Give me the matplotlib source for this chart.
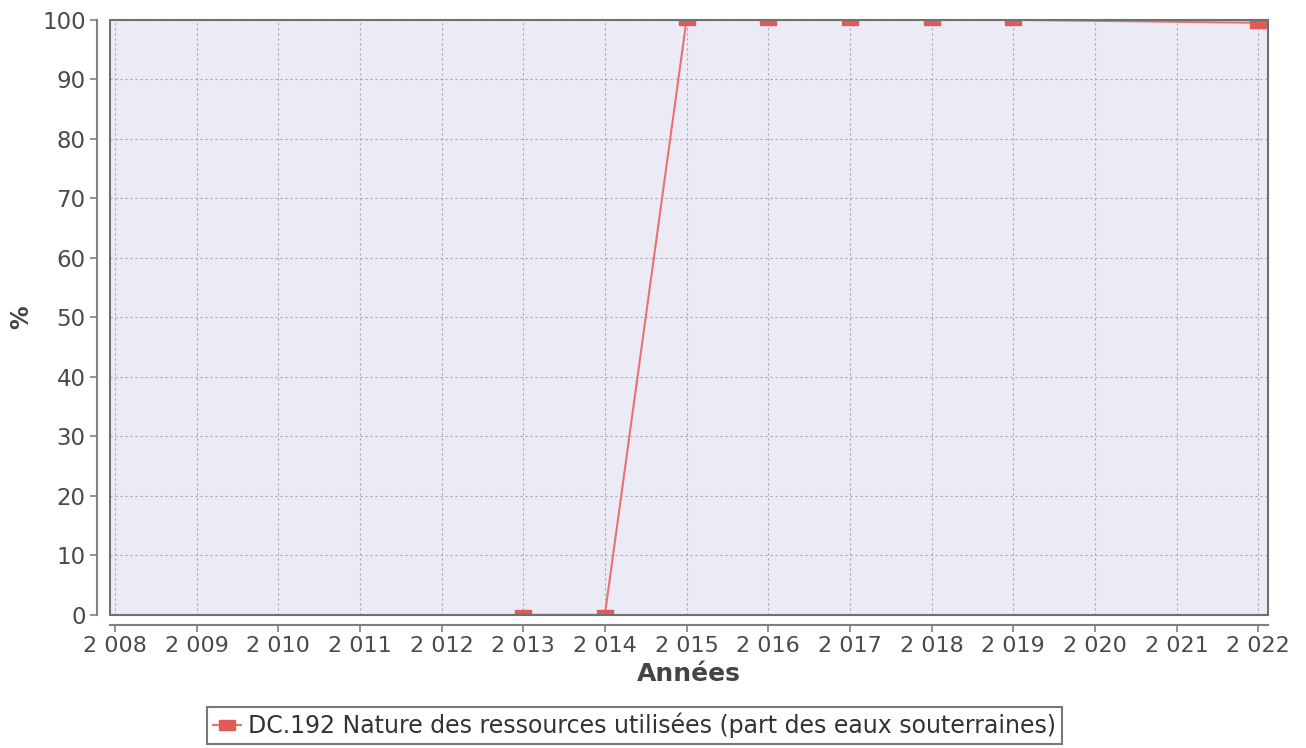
import matplotlib
matplotlib.use("Agg")
import matplotlib.pyplot as plt
from matplotlib.patches import Rectangle
from matplotlib.ticker import FuncFormatter

years = [2013, 2014, 2015, 2016, 2017, 2018, 2019, 2022]
values = [0, 0, 100, 100, 100, 100, 100, 99.5]
label = "DC.192 Nature des ressources utilisées (part des eaux souterraines)"

fig = plt.figure(figsize=(13.06, 7.48), dpi=100)
ax = fig.add_axes([0.0842, 0.178, 0.8867, 0.7955])
ax.set_facecolor("#ebebf5")

rect_marker = [(-1.3, -0.9), (1.3, -0.9), (1.3, 0.9), (-1.3, 0.9), (-1.3, -0.9)]
ax.plot(years, values, color="#e87272", linewidth=1.5, marker=rect_marker,
        markersize=11, markerfacecolor="#e05a5a", markeredgecolor="#e05a5a",
        label=label, clip_on=True, zorder=3)

ax.set_xlim(2007.94, 2022.12)
ax.set_ylim(0, 100)
ax.set_xticks(range(2008, 2023))
ax.set_yticks(range(0, 101, 10))
ax.xaxis.set_major_formatter(FuncFormatter(lambda v, p: f"{int(v):,}".replace(",", " ")))

ax.grid(True, color="#a8a8b0", linestyle=(0, (2, 2.5)), linewidth=0.8)
ax.set_axisbelow(True)

for s in ["top", "right"]:
    ax.spines[s].set_visible(False)
ax.spines["left"].set_position(("outward", 9))
ax.spines["bottom"].set_position(("outward", 7))
for s in ["left", "bottom"]:
    ax.spines[s].set_color("#808080")
    ax.spines[s].set_linewidth(1.5)
ax.add_patch(Rectangle((0, 0), 1, 1, transform=ax.transAxes, fill=False,
                       edgecolor="#707070", linewidth=1.5, zorder=4, clip_on=False))

ax.tick_params(colors="#808080", labelcolor="#4a4a4a", labelsize=16, length=5, width=1.2)
ax.tick_params(axis="y", labelsize=16.5)
ax.set_xlabel("Années", fontsize=18, fontweight="bold", color="#444444", labelpad=4)
ax.set_ylabel("%", fontsize=17, fontweight="bold", color="#444444", labelpad=6)

leg = fig.legend(loc="lower center", bbox_to_anchor=(0.486, 0.005), fontsize=17,
                 frameon=True, fancybox=False, edgecolor="#555555", borderaxespad=0,
                 handlelength=1.2, handletextpad=0.3, borderpad=0.25)
leg.get_frame().set_linewidth(1.5)
for t in leg.get_texts():
    t.set_color("#333333")

fig.savefig("out.png", dpi=100)
